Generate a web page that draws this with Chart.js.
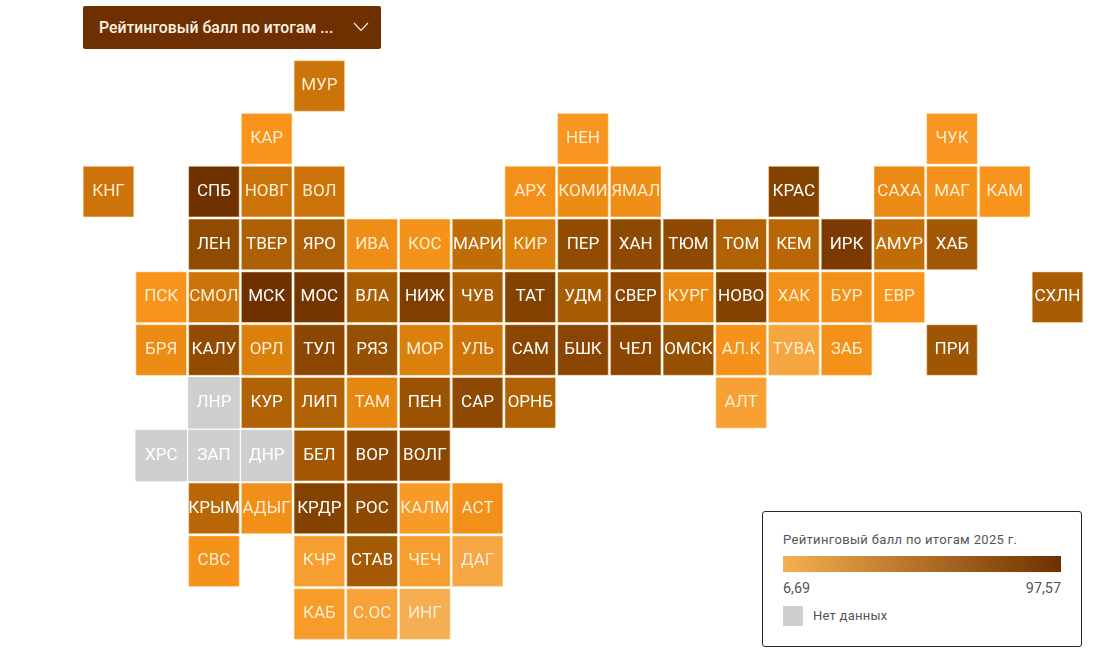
<!DOCTYPE html>
<html lang="ru">
<head>
<meta charset="utf-8">
<title>Рейтинговый балл</title>
<script src="https://cdn.jsdelivr.net/npm/chart.js@4"></script>
<style>
    html, body { margin: 0; padding: 0; background: #fff; font-family: Roboto, sans-serif; }
    #wrap { position: relative; width: 1118px; height: 661px; overflow: hidden; }
    #mapChart { position: absolute; left: 0; top: 0; }
    #select {
        position: absolute; left: 83px; top: 6px; width: 298px; height: 43px;
        background: #6e3000; color: #fdf3e6; border-radius: 2px;
        font-size: 15.8px; font-weight: 500; line-height: 43px; box-sizing: border-box; padding-left: 16px;
    }
    #select svg { position: absolute; left: 270px; top: 16px; }
    #legend {
        position: absolute; left: 762px; top: 511px; width: 320px; height: 136px;
        box-sizing: border-box; border: 1px solid #1c2a33; border-radius: 3px; background: #fff;
        color: #555; font-size: 13px;
    }
    #legend div { position: absolute; }
    #legendTitle { left: 20px; top: 20px; white-space: nowrap; letter-spacing: .33px; }
    #legendBar { left: 20px; top: 44px; width: 278px; height: 16px; background: linear-gradient(to right, #f5b04f, #6e3000); }
    #legendMin { left: 20px; top: 68px; font-size: 14.4px; }
    #legendMax { right: 20px; top: 68px; font-size: 14.4px; }
    #legendNone { left: 20px; top: 94px; width: 20px; height: 20px; background: #cfcfcf; }
    #legendNoneText { left: 50px; top: 96px; letter-spacing: .25px; }
</style>
</head>
<body>
<div id="wrap">
    <canvas id="mapChart" width="1118" height="661"></canvas>
    <div id="select">Рейтинговый балл по итогам ...
        <svg width="16" height="10" viewBox="0 0 16 10"><path d="M1 1 L8 8.5 L15 1" fill="none" stroke="#fdf3e6" stroke-width="1.1"/></svg>
    </div>
    <div id="legend">
        <div id="legendTitle">Рейтинговый балл по итогам 2025 г.</div>
        <div id="legendBar"></div>
        <div id="legendMin">6,69</div>
        <div id="legendMax">97,57</div>
        <div id="legendNone"></div>
        <div id="legendNoneText">Нет данных</div>
    </div>
</div>
<script>
const regions = [
    'МУР',
    'КАР', 'НЕН', 'ЧУК',
    'КНГ', 'СПБ', 'НОВГ', 'ВОЛ', 'АРХ', 'КОМИ', 'ЯМАЛ', 'КРАС', 'САХА', 'МАГ', 'КАМ',
    'ЛЕН', 'ТВЕР', 'ЯРО', 'ИВА', 'КОС', 'МАРИ', 'КИР', 'ПЕР', 'ХАН', 'ТЮМ', 'ТОМ', 'КЕМ', 'ИРК', 'АМУР', 'ХАБ',
    'ПСК', 'СМОЛ', 'МСК', 'МОС', 'ВЛА', 'НИЖ', 'ЧУВ', 'ТАТ', 'УДМ', 'СВЕР', 'КУРГ', 'НОВО', 'ХАК', 'БУР', 'ЕВР', 'СХЛН',
    'БРЯ', 'КАЛУ', 'ОРЛ', 'ТУЛ', 'РЯЗ', 'МОР', 'УЛЬ', 'САМ', 'БШК', 'ЧЕЛ', 'ОМСК', 'АЛ.К', 'ТУВА', 'ЗАБ', 'ПРИ',
    'ЛНР', 'КУР', 'ЛИП', 'ТАМ', 'ПЕН', 'САР', 'ОРНБ', 'АЛТ',
    'ХРС', 'ЗАП', 'ДНР', 'БЕЛ', 'ВОР', 'ВОЛГ',
    'КРЫМ', 'АДЫГ', 'КРДР', 'РОС', 'КАЛМ', 'АСТ',
    'СВС', 'КЧР', 'СТАВ', 'ЧЕЧ', 'ДАГ',
    'КАБ', 'С.ОС', 'ИНГ'
];
const columns = [
    4,
    3, 9, 16,
    0, 2, 3, 4, 8, 9, 10, 13, 15, 16, 17,
    2, 3, 4, 5, 6, 7, 8, 9, 10, 11, 12, 13, 14, 15, 16,
    1, 2, 3, 4, 5, 6, 7, 8, 9, 10, 11, 12, 13, 14, 15, 18,
    1, 2, 3, 4, 5, 6, 7, 8, 9, 10, 11, 12, 13, 14, 16,
    2, 3, 4, 5, 6, 7, 8, 12,
    1, 2, 3, 4, 5, 6,
    2, 3, 4, 5, 6, 7,
    2, 4, 5, 6, 7,
    4, 5, 6
];
const rows = [
    0,
    1, 1, 1,
    2, 2, 2, 2, 2, 2, 2, 2, 2, 2, 2,
    3, 3, 3, 3, 3, 3, 3, 3, 3, 3, 3, 3, 3, 3, 3,
    4, 4, 4, 4, 4, 4, 4, 4, 4, 4, 4, 4, 4, 4, 4, 4,
    5, 5, 5, 5, 5, 5, 5, 5, 5, 5, 5, 5, 5, 5, 5,
    6, 6, 6, 6, 6, 6, 6, 6,
    7, 7, 7, 7, 7, 7,
    8, 8, 8, 8, 8, 8,
    9, 9, 9, 9, 9,
    10, 10, 10
];
// null = нет данных
const scores = [
    58,
    30, 28, 28,
    58, 97, 58, 58, 35, 40, 38, 88, 42, 33, 30,
    83, 70, 70, 38, 33, 62, 52, 82, 84, 84, 68, 65, 92, 62, 75,
    30, 58, 97, 95, 72, 90, 72, 88, 72, 86, 45, 88, 35, 35, 30, 72,
    40, 82, 52, 85, 80, 52, 58, 85, 86, 85, 80, 32, 15, 34, 76,
    null, 68, 68, 48, 78, 84, 68, 20,
    null, null, null, 75, 85, 85,
    65, 36, 88, 84, 25, 35,
    33, 22, 74, 22, 14,
    24, 18, 8
];

// цветовая шкала: балл -> rgb
const scaleStops = [
    [6.69, [245, 176, 85]],
    [30, [248, 148, 28]],
    [50, [226, 132, 14]],
    [65, [184, 102, 6]],
    [80, [150, 80, 2]],
    [90, [128, 62, 1]],
    [97.57, [110, 48, 0]]
];

function scoreColor(v) {
    if (v === null) return '#cfcfcf';
    for (let i = 1; i < scaleStops.length; i++) {
        if (v <= scaleStops[i][0]) {
            const a = scaleStops[i - 1];
            const b = scaleStops[i];
            const t = (v - a[0]) / (b[0] - a[0]);
            const c = a[1].map((x, k) => Math.round(x + (b[1][k] - x) * t));
            return `rgb(${c[0]},${c[1]},${c[2]})`;
        }
    }
    return 'rgb(110,48,0)';
}

function labelColor(v) {
    if (v === null || v >= 62) return '#ffffff';
    return '#ffeed2';
}

// подписи регионов поверх квадратов
const cellLabels = {
    id: 'cellLabels',
    afterDatasetsDraw(chart) {
        const ctx = chart.ctx;
        ctx.save();
        ctx.font = '17px Roboto, sans-serif';
        ctx.textAlign = 'center';
        ctx.textBaseline = 'middle';
        regions.forEach((name, i) => {
            ctx.fillStyle = labelColor(scores[i]);
            ctx.fillText(name, chart.scales.x.getPixelForValue(columns[i]), chart.scales.y.getPixelForValue(rows[i]));
        });
        ctx.restore();
    }
};

const pitchX = 52.72;
const pitchY = 52.8;
const originX = 108.5;
const originY = 86;
const cellSide = 50.6;

new Chart(document.getElementById('mapChart').getContext('2d'), {
    type: 'scatter',
    data: {
        datasets: [{
            data: regions.map((name, i) => ({ x: columns[i], y: rows[i] })),
            pointStyle: 'rect',
            pointRadius: cellSide / 2 * Math.SQRT2,
            pointHoverRadius: cellSide / 2 * Math.SQRT2,
            pointBackgroundColor: scores.map(scoreColor),
            pointBorderColor: scores.map(v => v === null ? '#cfcfcf' : 'rgba(255,232,190,0.55)'),
            pointBorderWidth: 1
        }]
    },
    options: {
        responsive: false,
        animation: false,
        layout: { padding: 0, autoPadding: false },
        scales: {
            x: { type: 'linear', display: false, min: -originX / pitchX, max: (1118 - originX) / pitchX },
            y: { type: 'linear', display: false, reverse: true, min: -originY / pitchY, max: (661 - originY) / pitchY }
        },
        plugins: {
            legend: { display: false },
            tooltip: { enabled: false }
        }
    },
    plugins: [cellLabels]
});
</script>
</body>
</html>
